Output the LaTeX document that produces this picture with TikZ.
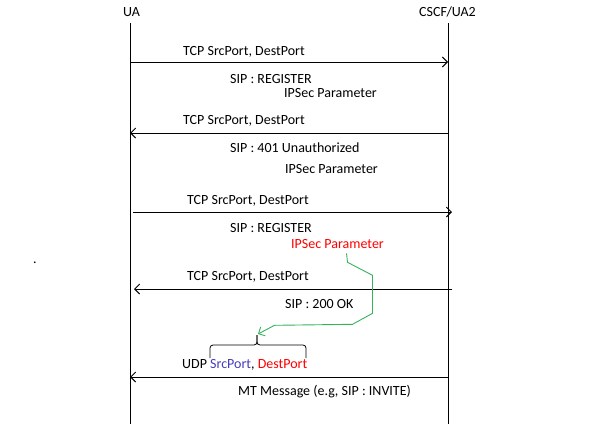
\documentclass[tikz,border=0pt]{standalone}
\usepackage{fontspec}
\setmainfont{Carlito}
\usetikzlibrary{arrows.meta}
\definecolor{portred}{RGB}{255,0,0}
\definecolor{portblue}{RGB}{70,60,190}
\definecolor{hintgreen}{RGB}{50,180,90}

\begin{document}
\begin{tikzpicture}[x=1pt, y=-1pt, font=\fontsize{14}{16}\selectfont,
    txt/.style={anchor=base west, inner sep=0pt},
    msg/.style={-{Straight Barb[length=5pt,width=10pt]}, line width=0.9pt},
    life/.style={line width=0.9pt},
    hint/.style={hintgreen, line width=0.9pt, -{Straight Barb[length=5pt,width=10pt]}}]
                \useasboundingbox (0,0) rectangle (608,424);
                % lifelines
                \node[txt] (ua) at (123,16) {UA};
                \node[txt] (cscf) at (419,16) {CSCF/UA2};
                \coordinate (uatop) at (130,23);
                \coordinate (uabot) at (130,424);
                \coordinate (cscftop) at (448,23);
                \coordinate (cscfbot) at (448,424);
                \draw[life] (uatop) -- (uabot);
                \draw[life] (cscftop) -- (cscfbot);
                % messages
                \foreach \n/\xa/\xb/\y in {1/130/448/62, 2/448/130/133, 3/133/452/212, 4/452/134/289, 5/448/130/377} {
                    \coordinate (s\n) at (\xa,\y);
                    \coordinate (e\n) at (\xb,\y);
                    \draw[msg] (s\n) -- (e\n);
                }
                \foreach \n/\x/\y in {1/183/55, 2/183/124, 3/187/204, 4/187/280} {
                    \node[txt] (tcp\n) at (\x,\y) {TCP SrcPort, DestPort};
                }
                \node[txt] (reg1) at (230,83) {SIP : REGISTER};
                \node[txt] (ipsec1) at (284,97) {IPSec Parameter};
                \node[txt] (unauth) at (230,152) {SIP : 401 Unauthorized};
                \node[txt] (ipsec2) at (285,173) {IPSec Parameter};
                \node[txt] (reg3) at (230,232) {SIP : REGISTER};
                \node[txt, portred] (ipsec3) at (291,248) {IPSec Parameter};
                \node[txt] (ok) at (285,308) {SIP : 200 OK};
                \node[txt] (udp) at (182,368) {UDP \textcolor{portblue}{SrcPort}, \textcolor{portred}{DestPort}};
                \node[txt] (mt) at (238,395) {MT Message (e.g, SIP : INVITE)};
                \node[txt] (dot) at (33,263) {.};
                % brace over the UDP ports
                \coordinate (brace) at (257,345);
                \draw[line width=0.8pt, rounded corners=3pt] (210,358) |- (brace) -- (257,335);
                \draw[line width=0.8pt, rounded corners=3pt] (306,358) |- (brace) -- (257,335);
                \coordinate (tip) at (258,334);
                \draw[hint] (ipsec3.south) ++(9,5) -- ++(1,9) -- ++(25,13) -- ++(0,38) -- ++(-20,11) -- ++(-78,1) -- (tip);
            \end{tikzpicture}
\end{document}
